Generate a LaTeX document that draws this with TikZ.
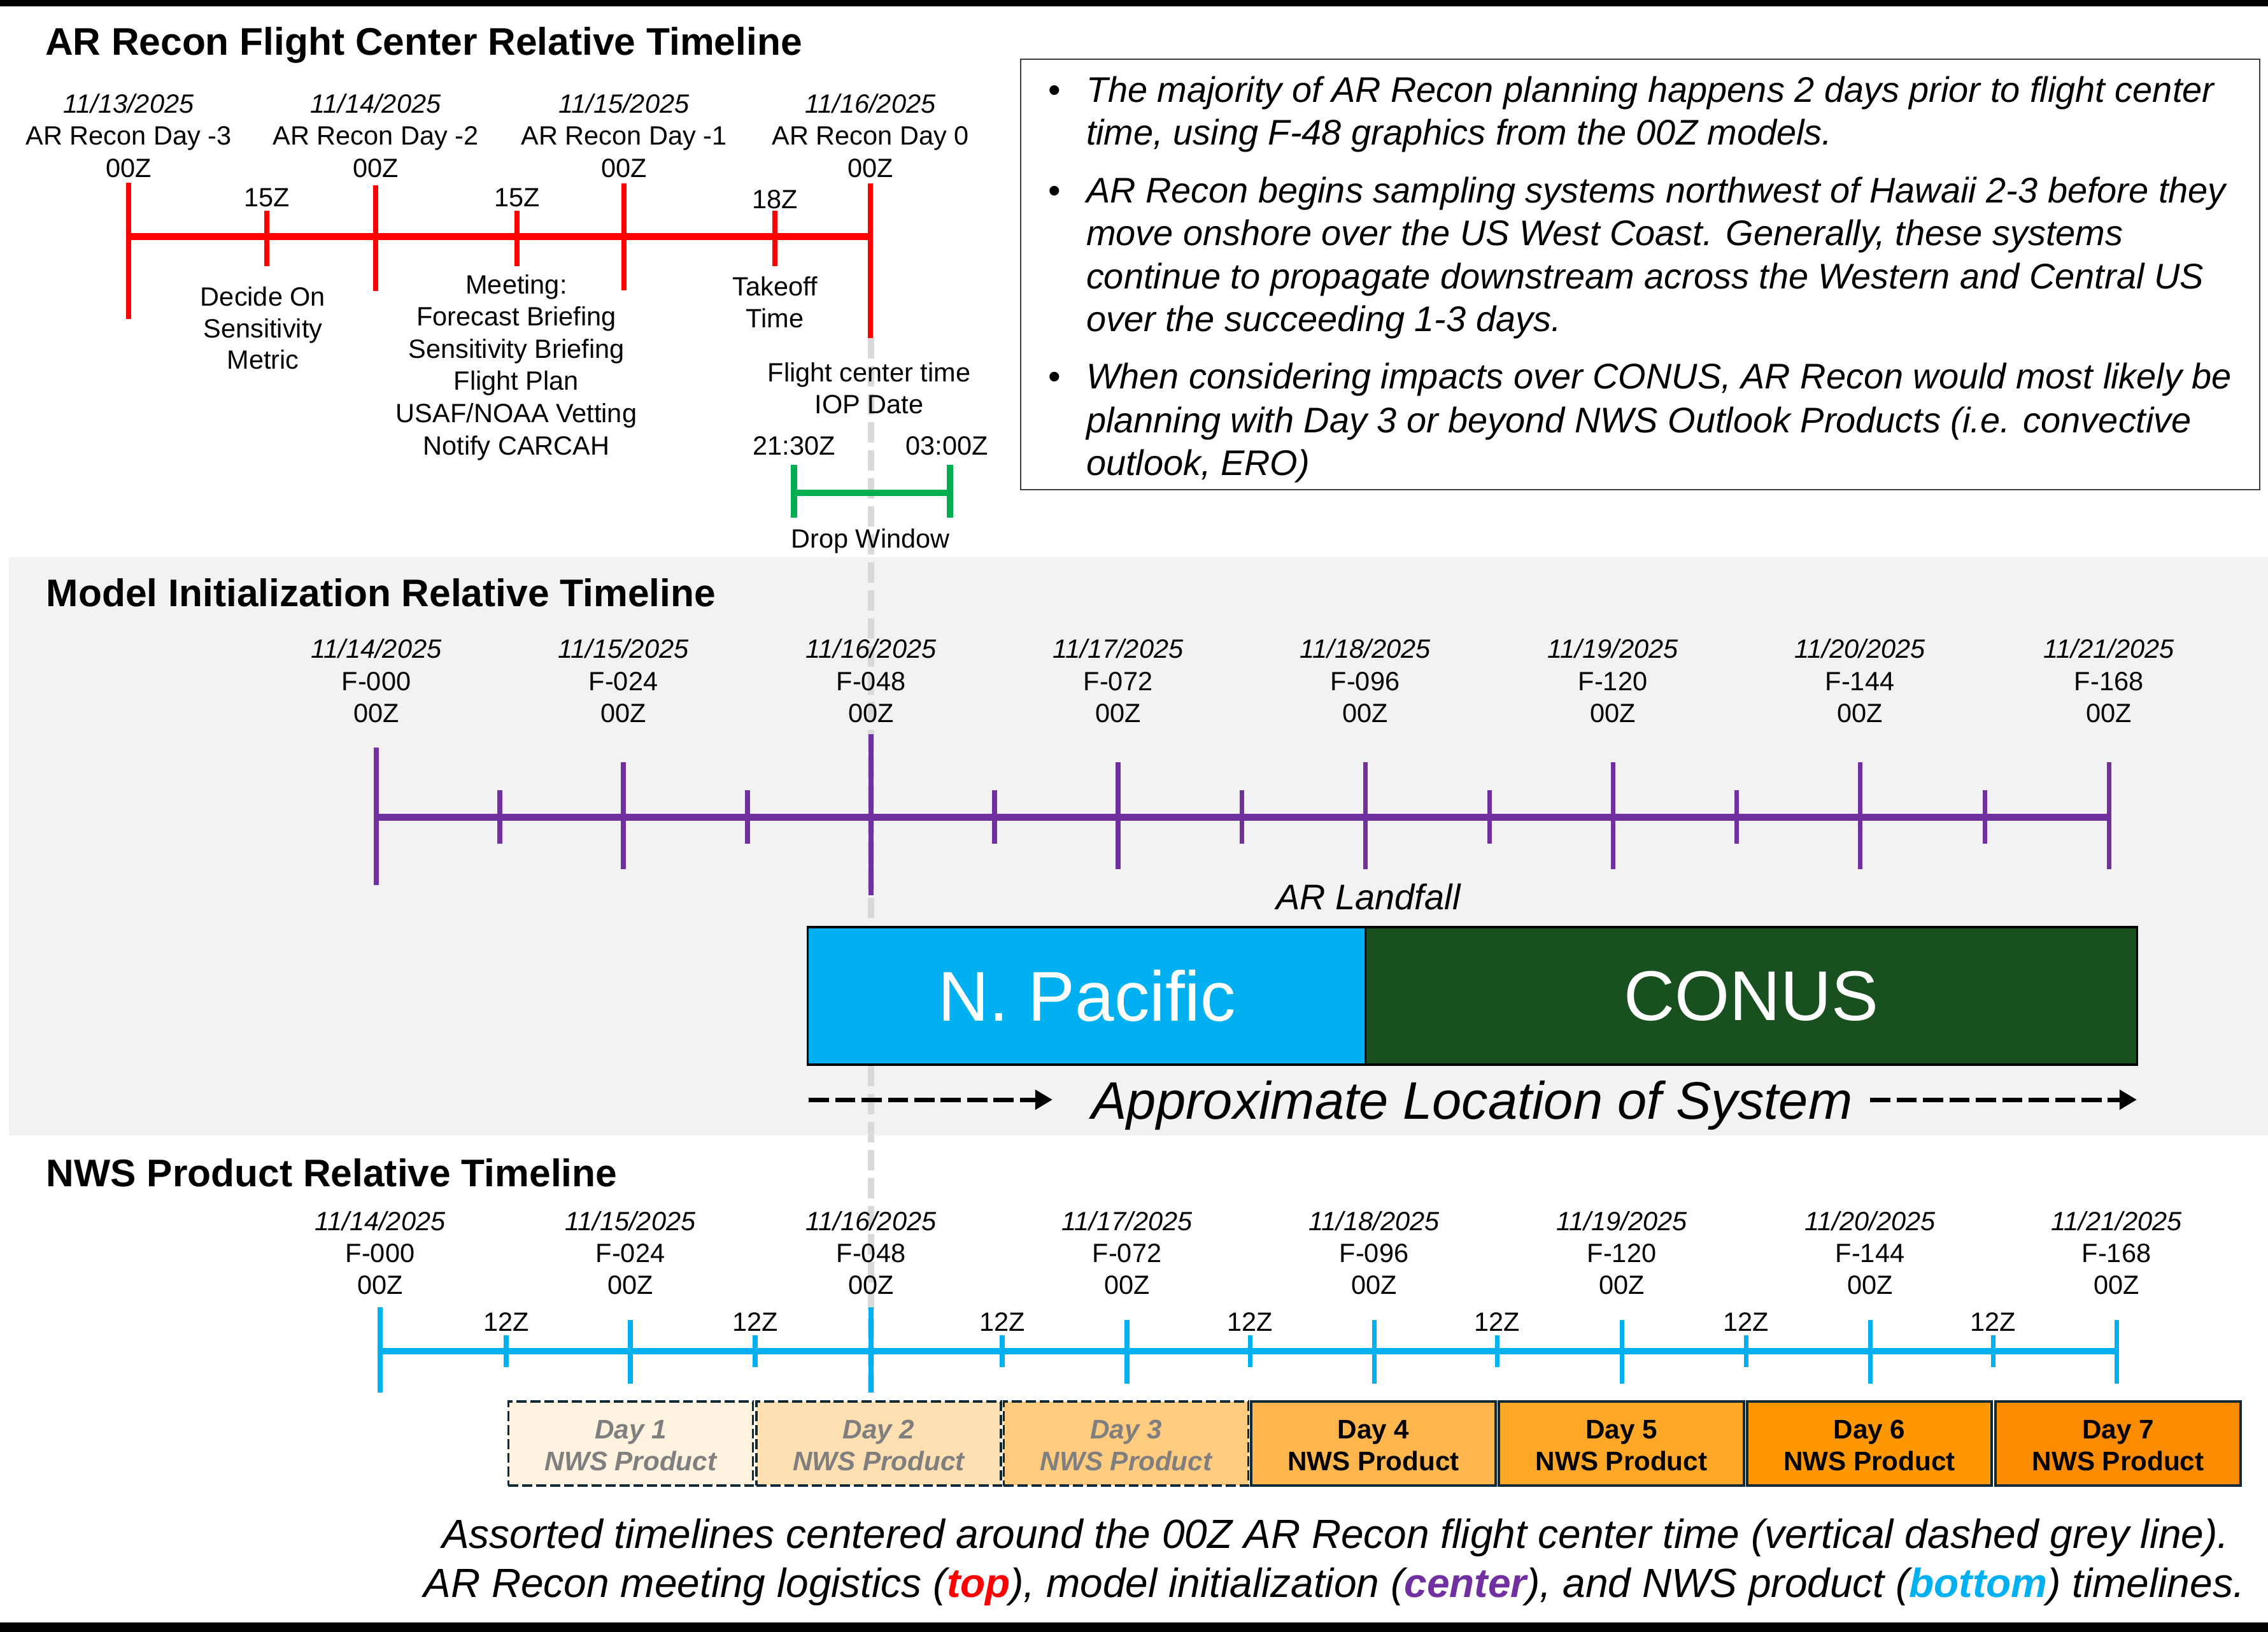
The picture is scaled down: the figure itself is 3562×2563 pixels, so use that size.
\documentclass[tikz,border=0pt]{standalone}
\usepackage{fontspec}
\setmainfont{Liberation Sans}
\usetikzlibrary{arrows.meta}

\definecolor{arred}{HTML}{FF0000}
\definecolor{modelpurple}{HTML}{7030A0}
\definecolor{nwsblue}{HTML}{00B0F0}
\definecolor{dropgreen}{HTML}{00B050}
\definecolor{conusgreen}{HTML}{18501F}
\definecolor{panelgrey}{HTML}{F2F2F2}
\definecolor{centergrey}{HTML}{D9D9D9}
\definecolor{boxnavy}{HTML}{0E2A36}
\definecolor{noteborder}{HTML}{404040}
\definecolor{fadedtext}{HTML}{7F7F7F}
\definecolor{dayA}{HTML}{FFF3E0}
\definecolor{dayB}{HTML}{FFE0B2}
\definecolor{dayC}{HTML}{FFCC80}
\definecolor{dayD}{HTML}{FFB74D}
\definecolor{dayE}{HTML}{FFA726}
\definecolor{dayF}{HTML}{FF9800}
\definecolor{dayG}{HTML}{FB8C00}

\newcommand\fsz[2]{\fontsize{#1}{#2}\selectfont}

\begin{document}
\begin{tikzpicture}[x=0.01cm,y=-0.01cm,
  every node/.style={inner sep=0pt, outer sep=0pt},
  sectitle/.style={font=\fsz{17.2pt}{20pt}\bfseries, anchor=base west},
  lbl/.style={font=\fsz{11.8pt}{14pt}, anchor=base},
  lbli/.style={font=\fsz{11.8pt}{14pt}\itshape, anchor=base},
  notetext/.style={font=\fsz{15.9pt}{19pt}\itshape, anchor=base west},
  notebullet/.style={font=\fsz{15.9pt}{19pt}, anchor=base},
  captext/.style={font=\fsz{18.2pt}{22pt}\itshape, anchor=base east},
  redline/.style={draw=arred, line width=3.13pt},
  redtick/.style={draw=arred, line width=2.28pt},
  purpleline/.style={draw=modelpurple, line width=3.13pt},
  purpletick/.style={draw=modelpurple, line width=2pt},
  blueline/.style={draw=nwsblue, line width=2.85pt},
  bluetick/.style={draw=nwsblue, line width=2pt},
  greenline/.style={draw=dropgreen, line width=2.85pt},
  centerline/.style={draw=centergrey, line width=2.85pt, dash pattern=on 9.1pt off 3.4pt},
  sysarrow/.style={draw=black, line width=2pt, dash pattern=on 9pt off 2.8pt,
    -{Triangle[length=7.7pt, width=8.5pt]}},
  regionbox/.style={draw=black, line width=0.9pt, minimum height=2.16cm,
    text=white, font=\fsz{31.5pt}{36pt}},
  daybox/.style={minimum width=3.84cm, minimum height=1.32cm},
  pastday/.style={daybox, draw=boxnavy, line width=1pt, dash pattern=on 4.5pt off 1.7pt},
  futureday/.style={daybox, draw=boxnavy, line width=1.14pt},
  pastdaytext/.style={font=\fsz{12pt}{14pt}\bfseries\itshape, text=fadedtext, anchor=base},
  futuredaytext/.style={font=\fsz{12pt}{14pt}\bfseries, text=black, anchor=base}
]
\useasboundingbox (0,0) rectangle (3562,2563);

% frame bars
\fill[black] (0,0) rectangle (3562,10);
\fill[black] (0,2548) rectangle (3562,2563);

% shaded panel for the model timeline
\fill[panelgrey] (14,875) rectangle (3562,1783);

% flight center time reference line
\coordinate (fct top) at (1368,531);
\coordinate (fct bottom) at (1368,2187);
\draw[centerline] (fct top) -- (fct bottom);

%% ---------------- AR Recon flight center timeline ----------------
\node[sectitle] (title top) at (71,86) {AR Recon Flight Center Relative Timeline};

\coordinate (r0) at (202,371);
\coordinate (r3) at (1367,371);
\draw[redline] (r0) -- (r3);

\draw[redtick] (202,287) -- (202,501);
\draw[redtick] (590,291) -- (590,457);
\draw[redtick] (980,288) -- (980,456);
\draw[redtick] (1367,288) -- (1367,531);
\foreach \x in {419,812,1217} \draw[redtick] (\x,331) -- (\x,418);

\foreach \x/\d/\n [count=\i] in {202/{11/13/2025}/{-3}, 590/{11/14/2025}/{-2}, 980/{11/15/2025}/{-1}, 1367/{11/16/2025}/{0}} {
  \node[lbli] (rdate\i) at (\x,177) {\d};
  \node[lbl] (rday\i) at (\x,227) {AR Recon Day \n};
  \node[lbl] (rz\i) at (\x,278) {00Z};
}
\node[lbl] (r15a) at (419,324) {15Z};
\node[lbl] (r15b) at (812,324) {15Z};
\node[lbl] (r18) at (1217,327) {18Z};

\node[lbl] (decide1) at (413,480) {Decide On};
\node[lbl] (decide2) at (413,530) {Sensitivity};
\node[lbl] (decide3) at (413,579) {Metric};

\foreach \t [count=\i] in {Meeting:, Forecast Briefing, Sensitivity Briefing, Flight Plan, USAF/NOAA Vetting, Notify CARCAH} {
  \node[lbl] (meet\i) at (811,{461+50.6*(\i-1)}) {\t};
}

\node[lbl] (takeoff1) at (1217,464) {Takeoff};
\node[lbl] (takeoff2) at (1217,514) {Time};

\node[lbl] (fct1) at (1365,599) {Flight center time};
\node[lbl] (fct2) at (1365,649) {IOP Date};

% drop window
\node[lbl] (dropstart) at (1247,714) {21:30Z};
\node[lbl] (dropend) at (1487,714) {03:00Z};
\coordinate (dw0) at (1247,774);
\coordinate (dw1) at (1492,774);
\draw[greenline] (dw0) -- (dw1);
\draw[greenline] (1247,730) -- (1247,813);
\draw[greenline] (1492,730) -- (1492,813);
\node[lbl] (dropwin) at (1367,860) {Drop Window};

% planning notes
\draw[draw=noteborder, line width=0.57pt] (1603,93) rectangle (3549,769);
\node[notebullet] (b1) at (1656,160) {•};
\node[notebullet] (b2) at (1656,318) {•};
\node[notebullet] (b3) at (1656,610) {•};
\node[notetext] (n1) at (1706,160) {The majority of AR Recon planning happens 2 days prior to flight center};
\node[notetext] (n2) at (1706,227) {time, using F-48 graphics from the 00Z models.};
\node[notetext] (n3) at (1706,318) {AR Recon begins sampling systems northwest of Hawaii 2-3 before they};
\node[notetext] (n4) at (1706,385) {move onshore over the US West Coast. Generally, these systems};
\node[notetext] (n5) at (1706,453) {continue to propagate downstream across the Western and Central US};
\node[notetext] (n6) at (1706,520) {over the succeeding 1-3 days.};
\node[notetext] (n7) at (1706,610) {When considering impacts over CONUS, AR Recon would most likely be};
\node[notetext] (n8) at (1706,679) {planning with Day 3 or beyond NWS Outlook Products (i.e. convective};
\node[notetext] (n9) at (1706,746) {outlook, ERO)};

%% ---------------- Model initialization timeline ----------------
\node[sectitle] (title mid) at (73,952) {Model Initialization Relative Timeline};

\coordinate (m0) at (591,1283);
\coordinate (m7) at (3313,1283);
\draw[purpleline] (m0) -- (m7);
\draw[purpletick] (591,1174) -- (591,1390);
\draw[purpletick] (1368,1153) -- (1368,1406);
\foreach \x in {979,1756,2144,2533,2921,3312} \draw[purpletick] (\x,1197) -- (\x,1365);
\foreach \x in {785,1174,1562,1950,2339,2727,3117} \draw[purpletick] (\x,1241) -- (\x,1325);

\foreach \x/\d/\f in {591/14/000, 979/15/024, 1368/16/048, 1756/17/072, 2144/18/096, 2533/19/120, 2921/20/144, 3312/21/168} {
  \node[lbli] (mdate\d) at (\x,1033) {11/\d/2025};
  \node[lbl] (mf\d) at (\x,1084) {F-\f};
  \node[lbl] (mz\d) at (\x,1134) {00Z};
}

\node[font=\fsz{15.9pt}{19pt}\itshape, anchor=base] (landfall) at (2149,1428) {AR Landfall};

\node[regionbox, fill=nwsblue, minimum width=8.76cm] (npac) at (1707,1564) {N. Pacific};
\node[regionbox, fill=conusgreen, minimum width=12.11cm] (conus) at (2750.5,1564) {CONUS};

\node[font=\fsz{23.6pt}{28pt}\itshape, anchor=base] (sysloc) at (2312,1757) {Approximate Location of System};
\coordinate (sa0) at (1270,1727);
\coordinate (sa1) at (1653,1727);
\coordinate (sb0) at (2937,1727);
\coordinate (sb1) at (3356,1727);
\draw[sysarrow] (sa0) -- (sa1);
\draw[sysarrow] (sb0) -- (sb1);

%% ---------------- NWS product timeline ----------------
\node[sectitle] (title bot) at (73,1863) {NWS Product Relative Timeline};

\coordinate (w0) at (597,2122);
\coordinate (w7) at (3324,2122);
\draw[blueline] (w0) -- (w7);
\draw[bluetick] (597,2053) -- (597,2187);
\draw[bluetick] (1368,2053) -- (1368,2187);
\foreach \x in {990,1770,2158,2547,2937,3324} \draw[bluetick] (\x,2073) -- (\x,2173);
\foreach \x [count=\i] in {795,1186,1574,1963,2351,2742,3130} {
  \draw[bluetick] (\x,2097) -- (\x,2147);
  \node[lbl] (twelve\i) at (\x,2090) {12Z};
}

\foreach \x/\d/\f in {597/14/000, 990/15/024, 1368/16/048, 1770/17/072, 2158/18/096, 2547/19/120, 2937/20/144, 3324/21/168} {
  \node[lbli] (wdate\d) at (\x,1932) {11/\d/2025};
  \node[lbl] (wf\d) at (\x,1982) {F-\f};
  \node[lbl] (wz\d) at (\x,2032) {00Z};
}

% NWS day products
\foreach \l/\r/\c/\n in {795/1186/dayA/1, 1186/1574/dayB/2, 1574/1963/dayC/3} {
  \node[pastday, fill=\c] (day\n) at ({(\l+\r)/2},2267) {};
  \node[pastdaytext] (dayt\n) at ({(\l+\r)/2},2259) {Day \n};
  \node[pastdaytext] (dayp\n) at ({(\l+\r)/2},2309) {NWS Product};
}
\foreach \l/\r/\c/\n in {1963/2351/dayD/4, 2351/2742/dayE/5, 2742/3130/dayF/6, 3132/3521/dayG/7} {
  \node[futureday, fill=\c] (day\n) at ({(\l+\r)/2},2267) {};
  \node[futuredaytext] (dayt\n) at ({(\l+\r)/2},2259) {Day \n};
  \node[futuredaytext] (dayp\n) at ({(\l+\r)/2},2309) {NWS Product};
}

% caption
\node[captext] (cap1) at (3501,2431) {Assorted timelines centered around the 00Z AR Recon flight center time (vertical dashed grey line).};
\node[captext] (cap2) at (3525,2508) {AR Recon meeting logistics (\textcolor{arred}{\bfseries top}), model initialization (\textcolor{modelpurple}{\bfseries center}), and NWS product (\textcolor{nwsblue}{\bfseries bottom}) timelines.};

\end{tikzpicture}
\end{document}
